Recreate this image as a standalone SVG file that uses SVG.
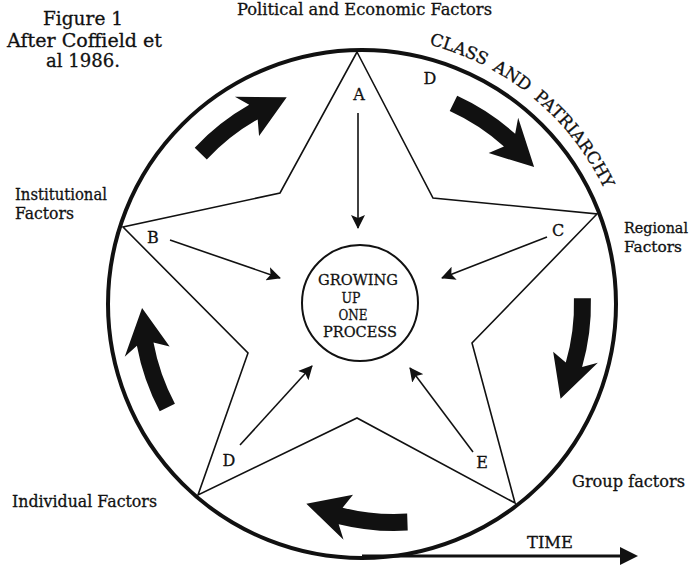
<svg xmlns="http://www.w3.org/2000/svg" width="693" height="565" viewBox="0 0 693 565">
<style>
text{font-family:"DejaVu Serif","Liberation Serif",serif;fill:#111;stroke:#111;stroke-width:0.3}
.lbl{font-size:16.5px}
.reg{font-size:15px}
.ttl{font-size:19px}
.ltr{font-size:16px;text-anchor:middle}
.ctr{font-size:15px;text-anchor:middle}
.cp{font-size:17px}
.star{fill:none;stroke:#111;stroke-width:1.6;stroke-linejoin:miter}
.conn{stroke:#111;stroke-width:1.6;fill:none}
.big{fill:none;stroke:#111;stroke-width:4}
.cc{fill:none;stroke:#111;stroke-width:2}
.curv{fill:#111}
</style>
<defs>
<marker id="ah" markerUnits="userSpaceOnUse" markerWidth="14" markerHeight="14" viewBox="0 0 14 14" refX="13" refY="7" orient="auto">
<path d="M0,0 L14,7 L0,14 L3,7 Z" fill="#111"/>
</marker>
<path id="carrow" d="M-53.2,-222.7 A229,229 0 0 1 15.9,-228.4 L8.4,-242.9 L51.3,-213.9 L6.9,-196.9 L14.9,-211.5 A212,212 0 0 0 -49.7,-206.1 Z"/>
<path id="cpath" d="M429.1,44.6 A268,268 0 0 1 613.8,212.3"/>
</defs>

<g id="outer-circle"><circle class="big" cx="362" cy="304" r="254"/></g>

<g id="star"><polygon class="star" points="357,52 433,198 597,214 472,343 515,503 357,418 198,495 248,353 123,227 280,193"/></g>

<g id="cycle-arrows" class="curv">
<use href="#carrow" transform="translate(362,304) rotate(-33.5)"/>
<use href="#carrow" transform="translate(362,304) rotate(38)"/>
<use href="#carrow" transform="translate(362,304) rotate(102)"/>
<use href="#carrow" transform="translate(394,302) rotate(190)"/>
<use href="#carrow" transform="translate(362,304) rotate(255.5)"/>
</g>

<g id="connectors">
<line class="conn" x1="358" y1="113" x2="358" y2="228" marker-end="url(#ah)"/>
<line class="conn" x1="170" y1="240" x2="280" y2="278" marker-end="url(#ah)"/>
<line class="conn" x1="547" y1="237" x2="442" y2="278" marker-end="url(#ah)"/>
<line class="conn" x1="240" y1="445" x2="312" y2="366" marker-end="url(#ah)"/>
<line class="conn" x1="473" y1="452" x2="410" y2="368" marker-end="url(#ah)"/>
</g>

<g id="center">
<circle class="cc" cx="360" cy="303" r="58"/>
<text class="ctr" x="358" y="285" textLength="80" lengthAdjust="spacingAndGlyphs">GROWING</text>
<text class="ctr" x="351" y="303" textLength="19" lengthAdjust="spacingAndGlyphs">UP</text>
<text class="ctr" x="353" y="320" textLength="29" lengthAdjust="spacingAndGlyphs">ONE</text>
<text class="ctr" x="360" y="337" textLength="74" lengthAdjust="spacingAndGlyphs">PROCESS</text>
</g>

<g id="label-A"><text class="ltr" x="359" y="100">A</text></g>
<g id="label-D-top"><text class="ltr" x="430" y="84">D</text></g>
<g id="label-B"><text class="ltr" x="153" y="243">B</text></g>
<g id="label-C"><text class="ltr" x="558" y="236">C</text></g>
<g id="label-D"><text class="ltr" x="229" y="466">D</text></g>
<g id="label-E"><text class="ltr" x="482" y="468">E</text></g>

<g id="title">
<text class="ttl" x="43" y="25" textLength="80" lengthAdjust="spacingAndGlyphs">Figure 1</text>
<text class="ttl" x="7" y="47" textLength="155" lengthAdjust="spacingAndGlyphs">After Coffield et</text>
<text class="ttl" x="46" y="67" textLength="74" lengthAdjust="spacingAndGlyphs">al 1986.</text>
</g>

<g id="political"><text class="lbl" x="237" y="15" textLength="255" lengthAdjust="spacingAndGlyphs">Political and Economic Factors</text></g>

<g id="class-patriarchy">
<text class="cp"><textPath href="#cpath" startOffset="0">CLASS</textPath></text>
<text class="cp"><textPath href="#cpath" startOffset="68">AND</textPath></text>
<text class="cp"><textPath href="#cpath" startOffset="118">PATRIARCHY</textPath></text>
</g>

<g id="institutional">
<text class="lbl" x="15" y="200" textLength="92" lengthAdjust="spacingAndGlyphs">Institutional</text>
<text class="lbl" x="15" y="219" textLength="59" lengthAdjust="spacingAndGlyphs">Factors</text>
</g>

<g id="regional">
<text class="reg" x="624" y="233" textLength="64" lengthAdjust="spacingAndGlyphs">Regional</text>
<text class="reg" x="624" y="252" textLength="58" lengthAdjust="spacingAndGlyphs">Factors</text>
</g>

<g id="individual"><text class="lbl" x="12" y="507" textLength="145" lengthAdjust="spacingAndGlyphs">Individual Factors</text></g>

<g id="group"><text class="lbl" x="572" y="487" textLength="113" lengthAdjust="spacingAndGlyphs">Group factors</text></g>

<g id="time">
<line x1="362" y1="556" x2="624" y2="556" stroke="#111" stroke-width="3"/>
<polygon points="620,547 638,556 620,565" fill="#111"/>
<text class="lbl" x="527" y="548" textLength="46" lengthAdjust="spacingAndGlyphs">TIME</text>
</g>
</svg>
